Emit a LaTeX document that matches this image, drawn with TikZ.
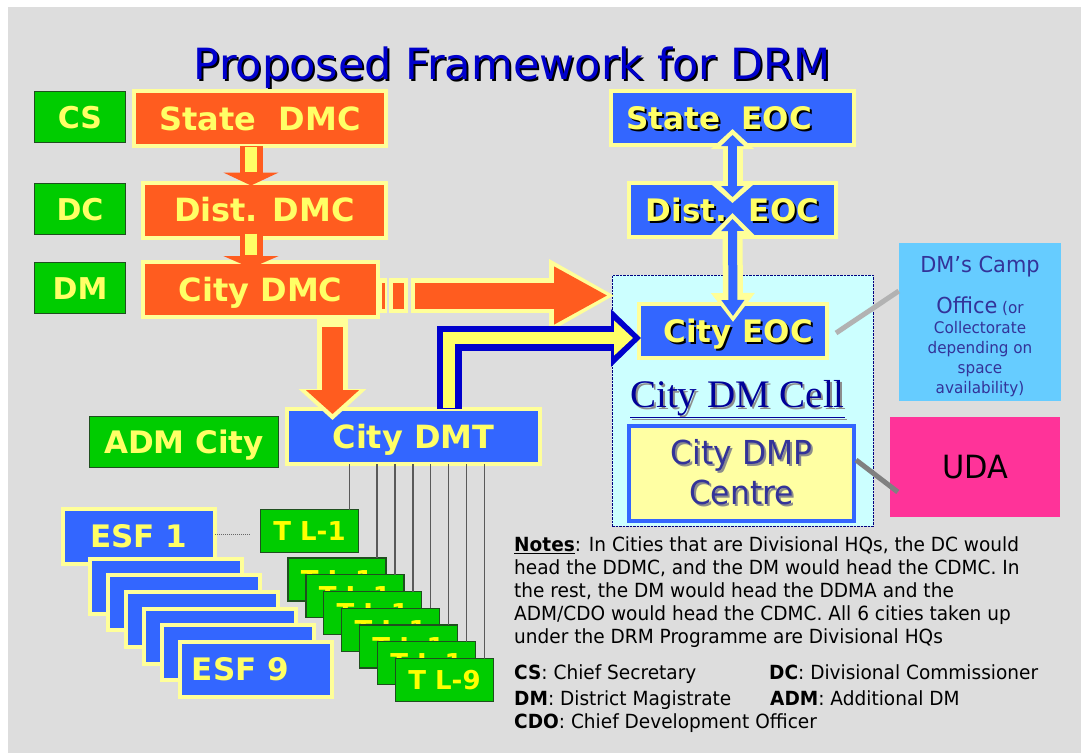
\documentclass[tikz,border=0pt]{standalone}
\usepackage{fontspec}
\setmainfont{DejaVu Sans}
\newfontfamily\notefont[FakeStretch=0.95]{DejaVu Sans}
\newfontfamily\cellfont{Liberation Serif}
\usetikzlibrary{arrows.meta,calc}

\definecolor{bggrey}{HTML}{DDDDDD}
\definecolor{dmorange}{HTML}{FF5C1F}
\definecolor{boxyellow}{HTML}{FFFF99}
\definecolor{txtyellow}{HTML}{FFFF66}
\definecolor{tlyellow}{HTML}{FFFF00}
\definecolor{eocblue}{HTML}{3366FF}
\definecolor{dmgreen}{HTML}{00CC00}
\definecolor{greenedge}{HTML}{1F4F1F}
\definecolor{titleblue}{HTML}{0000CC}
\definecolor{arrblue}{HTML}{0000CC}
\definecolor{cellcyan}{HTML}{CCFFFF}
\definecolor{celledge}{HTML}{000080}
\definecolor{cellnavy}{HTML}{000099}
\definecolor{campblue}{HTML}{66CCFF}
\definecolor{dmpnavy}{HTML}{333399}
\definecolor{udapink}{HTML}{FF3399}
\definecolor{linkgrey}{HTML}{B2B2B2}
\definecolor{dmpgrey}{HTML}{808080}

\newcommand{\shadowed}[2]{\rlap{\kern2pt\raisebox{-2pt}{\textcolor{#1}{#2}}}#2}

\begin{document}
\begin{tikzpicture}[x=1pt, y=-1pt,
  dmc/.style={fill=dmorange, draw=boxyellow, line width=4pt, text=txtyellow,
    font=\bfseries\fontsize{32}{32}\selectfont, text height=23pt, text depth=0pt,
    minimum height=55pt, inner sep=0pt, outer sep=0pt},
  eoc/.style={dmc, fill=eocblue, minimum height=54pt,
    font=\bfseries\fontsize{31}{31}\selectfont, text height=22.5pt},
  who/.style={fill=dmgreen, draw=greenedge, line width=1.2pt, text=txtyellow,
    font=\bfseries\fontsize{30}{30}\selectfont, text height=22pt, text depth=0pt,
    minimum width=91pt, minimum height=51pt, inner sep=0pt, outer sep=0pt},
  esf/.style={dmc, fill=eocblue, font=\bfseries\fontsize{31}{31}\selectfont,
    text height=22.5pt, minimum width=152pt},
  tl/.style={who, text=tlyellow, font=\bfseries\fontsize{26}{26}\selectfont,
    text height=19pt, minimum width=98pt, minimum height=43pt},
  cellbox/.style={fill=cellcyan, draw=celledge, line width=0.8pt,
    dash pattern=on 2.5pt off 1pt, minimum width=261pt, minimum height=251pt,
    inner sep=0pt, outer sep=0pt},
  notes/.style={font=\notefont\fontsize{19.5}{23}\selectfont, align=left, inner sep=0pt},
  legend/.style={font=\notefont\fontsize{19.5}{23}\selectfont, inner sep=0pt, anchor=base west},
  tlwire/.style={draw=black!65, line width=1.5pt}]

% frame
\fill[white] (0,0) rectangle (1081,755);
\fill[bggrey] (8,7) rectangle (1081,753);
\useasboundingbox (0,0) rectangle (1081,755);

\node[font=\fontsize{43}{43}\selectfont, text=titleblue, inner sep=0pt, anchor=base] (title) at (512,79)
  {\shadowed{black}{Proposed Framework for DRM}};

% committees
\node[who] (cs) at (80,117) {CS};
\node[dmc, minimum width=252pt] (sdmc) at (260,118.5) {State\ \ DMC};
\node[who] (dc) at (80,209) {DC};
\node[dmc, minimum width=243pt] (ddmc) at (264.5,210) {Dist. DMC};
\node[who] (dm) at (80,288) {DM};
\node[dmc, minimum width=235pt] (cdmc) at (260.5,289.5) {City DMC};
\node[who, minimum width=189pt, font=\bfseries\fontsize{31}{31}\selectfont] (adm) at (184,442) {ADM City};
\node[dmc, fill=eocblue, minimum width=253pt] (dmt) at (413.5,436.5) {City DMT};

% operation centres
\node[cellbox] (cell) at (742.5,400.5) {};
\node[eoc, minimum width=243pt] (seoc) at (732.5,118) {\shadowed{black}{State\ \ EOC}\kern27pt};
\node[eoc, minimum width=207pt] (deoc) at (732.5,210) {\shadowed{black}{Dist.\ \ EOC}};
\node[eoc, minimum width=188pt] (ceoc) at (733,331) {\shadowed{black}{City EOC}\kern-10pt};
\node[text=cellnavy, font=\cellfont\fontsize{39}{39}\selectfont, inner sep=0pt, anchor=base] (celltitle)
  at (737.5,407) {\shadowed{black!45}{\underline{City DM Cell}}};
\node[fill=boxyellow!90!white, draw=eocblue, line width=4pt, minimum width=225pt, minimum height=95pt,
  text=dmpnavy, font=\notefont\fontsize{33}{40}\selectfont, align=center, inner sep=0pt] (dmp)
  at (741.5,473.5) {\shadowed{black!45}{City DMP}\\\shadowed{black!45}{Centre}};
\node[fill=campblue, minimum width=162pt, minimum height=158pt, inner sep=0pt] (camp) at (980,322) {};
\node[text=dmpnavy, font=\notefont\fontsize{16}{20}\selectfont, align=center, inner sep=0pt] (camptxt)
  at ($(camp.center)+(0,4.5)$) {{\fontsize{22}{22}\selectfont DM’s Camp}\\[18pt]
  {\fontsize{22}{22}\selectfont Office} (or\\ Collectorate\\ depending on\\ space\\ availability)};
\node[fill=udapink, minimum width=170pt, minimum height=100pt, inner sep=0pt,
  font=\notefont\fontsize{32}{32}\selectfont, text height=23pt, text depth=0pt] (uda) at (975,467) {UDA};

% support functions and team leaders
\node[esf] (esf1) at (139,536.5) {ESF 1};
\foreach \i in {2,...,6}
  \node[esf] (esf\i) at ({165.5+18*(\i-2)},{586+16.7*(\i-2)}) {};
\node[esf] (esf9) at (255.5,669.5) {ESF 9\kern30pt};
\node[tl] (tl1) at (309.5,531) {T L-1};
\foreach \i in {2,...,7}
  \node[tl] (tl\i) at ({337+17.9*(\i-2)},{579.5+16.75*(\i-2)}) {T L-1};
\node[tl] (tl8) at (444.5,680) {T L-9};
\foreach \i in {1,...,8} {
  \path (tl\i.north east) ++(-9,0) coordinate (w\i);
  \draw[tlwire] (w\i) -- (w\i |- dmt.south);
}
\draw[black!60, densely dotted, line width=1pt] ($(esf1.east)+(0,-2.5)$) -- ($(tl1.west)+(-11,3)$);

% orange arrows
\coordinate (axis) at (251,0);
\draw[dmorange, line width=23pt, -{Triangle[length=13pt,width=55pt]}]
  (sdmc.south -| axis) -- ($(ddmc.north -| axis)+(0,3)$);
\draw[txtyellow, line width=12pt, shorten >=14pt] ($(sdmc.south -| axis)+(0,1)$) -- ($(ddmc.north -| axis)+(0,3)$);
\draw[dmorange, line width=23pt, -{Triangle[length=12pt,width=55pt]}]
  ($(ddmc.south -| axis)+(0,-5)$) -- ($(cdmc.north -| axis)+(0,6)$);
\draw[txtyellow, line width=12pt, shorten >=13pt] ($(ddmc.south -| axis)+(0,-4)$) -- ($(cdmc.north -| axis)+(0,6)$);

\coordinate (rarr) at ($(cdmc.east)+(0,6)$);
\foreach \a/\b in {1/9, 11/30}
  \draw[boxyellow, line width=35pt] ($(rarr)+(\a,0)$) -- ($(rarr)+(\b,0)$);
\foreach \a/\b in {4/7, 15/26}
  \draw[dmorange, line width=26pt] ($(rarr)+(\a,0)$) -- ($(rarr)+(\b,0)$);
\draw[boxyellow, line width=35pt, -{Triangle[length=66pt,width=68pt]}]
  ($(rarr)+(33,0)$) -- ($(cell.north west)+(3,20.5)$);
\draw[dmorange, line width=26pt, -{Triangle[length=54pt,width=54pt]}, shorten >=7pt]
  ($(rarr)+(37,0)$) -- ($(cell.north west)+(3,20.5)$);

\coordinate (daxis) at (332.5,0);
\draw[boxyellow, line width=31pt, -{Triangle[length=31pt,width=66pt]}]
  ($(cdmc.south -| daxis)+(0,-2)$) -- ($(dmt.north -| daxis)+(0,11)$);
\draw[dmorange, line width=21pt, -{Triangle[length=24pt,width=52pt]}, shorten >=6pt]
  ($(cdmc.south -| daxis)+(0,10)$) -- ($(dmt.north -| daxis)+(0,11)$);

% blue link to the city EOC
\draw[arrblue, line width=25pt, -{Triangle[length=30pt,width=56pt]}]
  ($(dmt.north)+(35.5,0)$) |- ($(ceoc.west)+(2,7)$);
\draw[txtyellow, line width=12pt, -{Triangle[length=19pt,width=34pt]}, shorten >=8pt]
  ($(dmt.north)+(35.5,-1)$) |- ($(ceoc.west)+(2,7)$);

% EOC chain
\draw[boxyellow, line width=20pt, {Triangle[length=20pt,width=42pt]}-{Triangle[length=19pt,width=42pt]}]
  ($(seoc.south)+(0,-16)$) -- ($(deoc.north)+(0,20)$);
\draw[eocblue, line width=9pt, {Triangle[length=11pt,width=22pt]}-{Triangle[length=11pt,width=22pt]},
  shorten <=6pt, shorten >=6pt] ($(seoc.south)+(0,-16)$) -- ($(deoc.north)+(0,20)$);
\draw[boxyellow, line width=20pt, {Triangle[length=22pt,width=42pt]}-{Triangle[length=29pt,width=42pt]}]
  ($(deoc.south)+(0,-24)$) -- ($(ceoc.north)+(0,18)$);
\draw[eocblue, line width=9pt, {Triangle[length=12pt,width=22pt]}-{Triangle[length=16pt,width=22pt]},
  shorten <=6pt, shorten >=6pt] ($(deoc.south)+(0,-24)$) -- ($(ceoc.north)+(0,18)$);

% side links
\draw[linkgrey, line width=5pt] ($(ceoc.east)+(9,2)$) -- ($(camp.west)+(0,-31)$);
\draw[dmpgrey, line width=5pt] ($(dmp.east)+(0,-13.5)$) -- ($(uda.west)+(8,25)$);

% notes
\node[notes, anchor=north west] (notes) at (514,536)
  {\textbf{\underline{Notes}}: In Cities that are Divisional HQs, the DC would\\
   head the DDMC, and the DM would head the CDMC. In\\
   the rest, the DM would head the DDMA and the\\
   ADM/CDO would head the CDMC. All 6 cities taken up\\
   under the DRM Programme are Divisional HQs};
\node[legend] (lcs) at (514,679) {\textbf{CS}: Chief Secretary};
\node[legend] (ldc) at (769,679) {\textbf{DC}: Divisional Commissioner};
\node[legend] (ldm) at (514,705) {\textbf{DM}: District Magistrate};
\node[legend] (ladm) at (770,705) {\textbf{ADM}: Additional DM};
\node[legend] (lcdo) at (514,728) {\textbf{CDO}: Chief Development Officer};
\end{tikzpicture}
\end{document}
